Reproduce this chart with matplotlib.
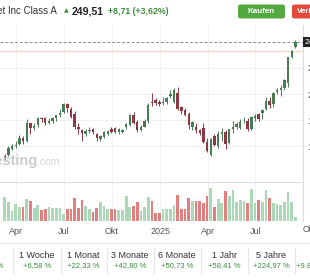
import numpy as np
import matplotlib
matplotlib.use("Agg")
import matplotlib.pyplot as plt
import matplotlib.dates as mdates
from matplotlib.patches import FancyBboxPatch, Rectangle
from matplotlib.lines import Line2D
import datetime as dt

plt.rcParams['font.family'] = ['Liberation Sans', 'DejaVu Sans']

# ---- data (weekly candles, Mar 2024 - Sep 2025) ----
start_week = dt.date(2024, 3, 11)
opens = [137.0, 141.5, 148.0, 150.0, 152.0, 158.5, 155.0, 172.0, 168.0, 170.0,
         177.5, 177.0, 172.5, 174.5, 177.0, 180.0, 182.5, 190.5, 186.0, 181.0,
         169.0, 166.0, 162.0, 165.0, 167.0, 162.0, 157.5, 159.5, 162.0, 167.0,
         168.0, 163.5, 163.5, 168.6, 170.5, 180.0, 173.3, 166.0, 169.0, 174.0,
         192.0, 194.5, 192.5, 191.0, 192.0, 198.0, 192.0, 200.5, 187.5, 185.0,
         181.0, 168.5, 168.6, 165.5, 167.6, 154.0, 142.0, 160.0, 150.5, 162.0,
         164.0, 153.0, 166.5, 169.0, 168.0, 174.0, 174.5, 167.0, 177.5, 180.5,
         182.0, 186.0, 193.5, 190.0, 201.5, 204.0, 206.0, 210.0, 235.5, 244.5]
highs = [143.0, 150.6, 152.0, 155.2, 161.0, 160.0, 176.4, 172.7, 172.0, 178.0,
         178.5, 178.5, 177.0, 178.0, 180.0, 186.0, 191.0, 191.8, 187.5, 184.0,
         172.0, 167.0, 166.5, 168.5, 168.0, 162.5, 161.0, 164.5, 166.0, 168.5,
         169.0, 167.5, 166.5, 172.0, 181.0, 182.5, 175.0, 170.5, 176.0, 191.0,
         201.4, 196.5, 194.0, 197.0, 197.0, 203.7, 205.5, 207.0, 188.5, 187.0,
         182.5, 174.0, 172.0, 166.5, 172.0, 158.0, 158.5, 161.5, 164.5, 167.5,
         165.5, 167.0, 174.0, 173.0, 176.0, 178.0, 177.0, 178.7, 180.5, 181.5,
         186.0, 197.5, 197.0, 202.0, 206.0, 208.5, 214.5, 235.0, 241.5, 251.5]
lows = [136.0, 140.5, 146.5, 148.5, 151.0, 152.0, 154.0, 162.0, 165.5, 169.0,
        173.0, 170.6, 171.0, 172.5, 174.0, 178.0, 182.0, 182.5, 177.0, 167.0,
        162.0, 155.0, 160.0, 163.0, 161.5, 155.0, 155.5, 158.0, 160.5, 163.0,
        163.0, 161.5, 162.5, 167.0, 169.5, 171.5, 163.5, 165.0, 168.5, 172.0,
        188.6, 189.5, 188.5, 189.5, 190.5, 196.5, 191.0, 185.0, 180.5, 179.0,
        167.0, 166.0, 163.0, 160.5, 153.0, 145.0, 140.5, 150.5, 149.0, 155.0,
        147.5, 152.0, 163.0, 167.0, 166.5, 172.0, 164.5, 165.5, 174.5, 174.0,
        176.5, 185.0, 186.5, 188.0, 200.0, 198.5, 204.0, 206.5, 234.0, 244.0]
closes = [141.2, 148.7, 150.9, 151.8, 157.7, 154.9, 171.9, 167.2, 169.8, 177.3,
          176.3, 172.5, 174.5, 177.3, 179.6, 182.2, 190.0, 186.9, 177.7, 168.7,
          166.7, 163.0, 165.0, 165.6, 163.4, 158.5, 160.0, 163.5, 164.5, 164.0,
          163.8, 166.5, 165.5, 171.4, 180.0, 172.5, 166.0, 168.9, 174.7, 189.8,
          191.4, 191.2, 190.5, 192.0, 196.0, 200.2, 204.0, 185.3, 184.0, 179.7,
          170.3, 173.2, 165.7, 163.0, 154.3, 145.6, 157.1, 151.2, 161.9, 164.0,
          152.8, 166.2, 168.5, 171.7, 173.7, 174.7, 166.6, 178.3, 179.5, 176.6,
          185.1, 193.2, 189.1, 201.4, 203.9, 206.1, 212.9, 235.0, 240.8, 249.51]
volumes = [144, 114, 60, 102, 84, 84, 132, 120, 78, 96,
           66, 72, 84, 78, 78, 78, 42, 72, 72, 138,
           78, 126, 90, 72, 54, 78, 114, 90, 72, 72,
           72, 66, 66, 150, 84, 90, 114, 60, 84, 144,
           120, 48, 48, 72, 72, 72, 96, 156, 72, 72,
           138, 120, 120, 120, 108, 150, 198, 84, 132, 108,
           180, 150, 186, 114, 126, 120, 108, 192, 108, 126,
           114, 186, 138, 108, 102, 96, 114, 174, 114, 24]

price_ticks = [150, 175, 200, 225]
tick_dates = [dt.date(2024, 4, 1), dt.date(2024, 7, 1), dt.date(2024, 10, 1),
              dt.date(2025, 1, 1), dt.date(2025, 4, 1), dt.date(2025, 7, 1)]
tick_labels = ["Apr", "Jul", "Okt", "2025", "Apr", "Jul"]
last_price = 249.51
prev_close = 240.80

periods = ["1 Tag", "1 Woche", "1 Monat", "3 Monate", "6 Monate", "1 Jahr", "5 Jahre", "Max"]
period_changes = ["+3,62 %", "+6,58 %", "+22,33 %", "+42,80 %", "+50,73 %", "+58,41 %", "+224,97 %", "+9.881,22 %"]

# ---- figure ----
W, H = 310, 280
fig = plt.figure(figsize=(W / 100, H / 100), dpi=100)
fig.patch.set_facecolor('white')

def fx(px):
    return px / W

def fy(py):
    return 1 - py / H

dates = [mdates.date2num(start_week + dt.timedelta(weeks=i)) for i in range(len(closes))]
x0 = mdates.date2num(start_week) - 9.0
x1 = x0 + 303 / (3.68 / 7)

up_c, dn_c = '#477c54', '#8e3842'
vup_c, vdn_c = '#abd8b7', '#e2807f'

# price panel
ax = fig.add_axes([0, fy(181), fx(303), (181 - 25) / H])
ax.set_xlim(x0, x1)
ax.set_ylim(249.51 - 139 / 1.05, 249.51 + 17 / 1.05)
for s in ['top', 'left', 'bottom']:
    ax.spines[s].set_visible(False)
ax.spines['right'].set_color('#dcdcdc')
ax.spines['right'].set_linewidth(0.8)
ax.yaxis.tick_right()
ax.set_yticks(price_ticks)
ax.set_yticklabels([f"{v},00" for v in price_ticks])
ax.tick_params(axis='y', length=0, pad=3, labelsize=6.5, labelcolor='#555555')
ax.set_xticks([mdates.date2num(d) for d in tick_dates])
ax.tick_params(axis='x', length=0, labelbottom=False)
ax.grid(True, color='#f1f1f1', linewidth=0.7)
ax.set_axisbelow(True)

cols = [up_c if c >= o else dn_c for o, c in zip(opens, closes)]
ax.vlines(dates, lows, highs, colors=cols, linewidth=0.7, zorder=2)
bottoms = [min(o, c) for o, c in zip(opens, closes)]
heights = [max(abs(c - o), 0.6) for o, c in zip(opens, closes)]
ax.bar(dates, heights, bottom=bottoms, width=4.6, color=cols, linewidth=0, zorder=3)

ax.axhline(prev_close, color='#f2d7cc', linewidth=0.9, zorder=1)
ax.axhline(last_price, color='#8a8a8a', linewidth=0.7, linestyle=(0, (3, 2)), zorder=1)

# watermark
fig.text(fx(37), fy(165), "Investing", ha='right', va='baseline', fontsize=10.5,
         fontweight='bold', color='#cbcbcb')
fig.text(fx(37), fy(165), ".com", ha='left', va='baseline', fontsize=7.5,
         color='#d6d6d6')

# volume panel
axv = fig.add_axes([0, fy(221), fx(303), 39 / H])
axv.set_xlim(x0, x1)
axv.set_ylim(0, 232)
vcols = [vup_c if c >= o else vdn_c for o, c in zip(opens, closes)]
axv.bar(dates, volumes, width=5.2, color=vcols, linewidth=0, zorder=2)
axv.spines['top'].set_color('#dddddd')
axv.spines['top'].set_linewidth(0.8)
axv.spines['right'].set_color('#dcdcdc')
axv.spines['right'].set_linewidth(0.8)
axv.spines['left'].set_visible(False)
axv.spines['bottom'].set_visible(False)
axv.set_yticks([])
axv.set_xticks([mdates.date2num(d) for d in tick_dates])
axv.set_xticklabels(tick_labels)
axv.tick_params(axis='x', length=0, pad=4, labelsize=6.5, labelcolor='#555555')
axv.grid(True, axis='x', color='#f1f1f1', linewidth=0.7)
axv.set_axisbelow(True)
fig.text(fx(302.5), fy(229), "Okt", ha='left', va='center', fontsize=6.5, color='#555555')

# current price box
fig.add_artist(Rectangle((fx(303), fy(47)), fx(10), 10 / H, transform=fig.transFigure,
                         facecolor='#222222', edgecolor='none'))
fig.text(fx(305), fy(42), "249,51", ha='left', va='center', fontsize=6, color='white')

# header
fig.text(fx(57), fy(11), "Alphabet Inc Class A", ha='right', va='center',
         fontsize=7, color='#333333')
fig.text(fx(66.5), fy(10.5), "\u25B2", ha='center', va='center', fontsize=4.5,
         color='#3c8f3c', family='DejaVu Sans')
fig.text(fx(72), fy(11), "249,51", ha='left', va='center', fontsize=7.6,
         fontweight='bold', color='#222222')
fig.text(fx(108), fy(11), "+8,71 (+3,62%)", ha='left', va='center', fontsize=6.3,
         fontweight='bold', color='#3c8f3c')

fig.add_artist(FancyBboxPatch((fx(238), fy(18.5)), fx(47), 14 / H,
                              boxstyle="round,pad=0,rounding_size=0.008",
                              transform=fig.transFigure, facecolor='#53a83f', edgecolor='none'))
fig.text(fx(261.5), fy(11.5), "Kaufen", ha='center', va='center', fontsize=5.8,
         fontweight='bold', color='white')
fig.add_artist(FancyBboxPatch((fx(292), fy(18.5)), fx(40), 14 / H,
                              boxstyle="round,pad=0,rounding_size=0.008",
                              transform=fig.transFigure, facecolor='#e4493c', edgecolor='none'))
fig.text(fx(297), fy(11.5), "Verkaufen", ha='left', va='center', fontsize=5.8,
         fontweight='bold', color='white')

# bottom performance table
fig.add_artist(Line2D([0, 1], [fy(243), fy(243)], transform=fig.transFigure,
                      color='#e6e6e6', linewidth=0.8))
centers = [-11, 37, 83, 130, 177, 224, 271, 318]
for cx in centers[:-1]:
    sx = cx + 23.5
    fig.add_artist(Line2D([fx(sx), fx(sx)], [fy(247), fy(273)], transform=fig.transFigure,
                          color='#e6e6e6', linewidth=0.8))
for cx, lab, val in zip(centers, periods, period_changes):
    fig.text(fx(cx), fy(255), lab, ha='center', va='center', fontsize=6.5, color='#333333')
    fig.text(fx(cx), fy(265.5), val, ha='center', va='center', fontsize=5.5, color='#3c8f3c')

fig.savefig("out.png", dpi=100)
